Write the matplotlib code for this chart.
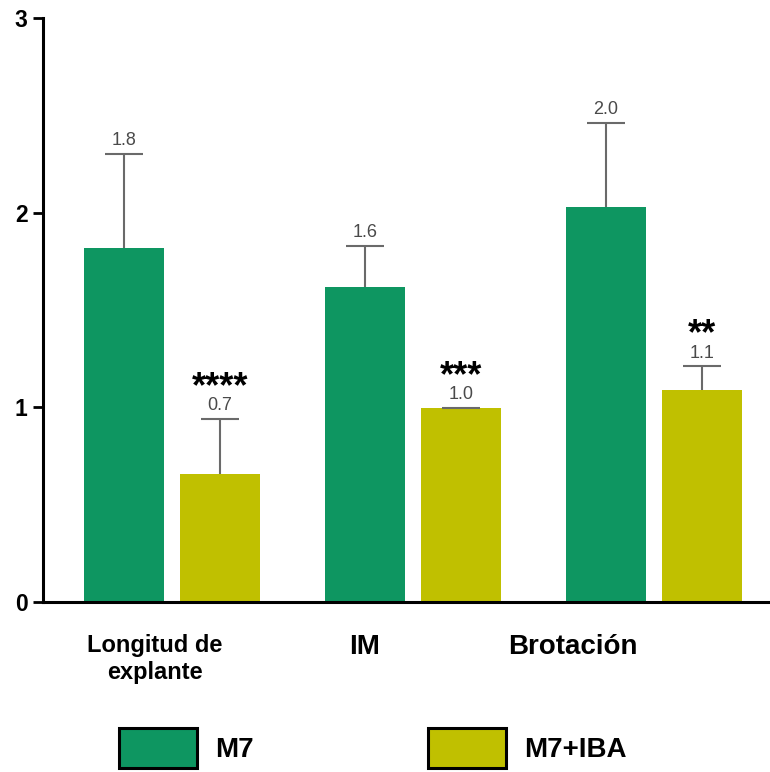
import matplotlib
matplotlib.use("Agg")
import matplotlib.pyplot as plt
from matplotlib.patches import Patch
import numpy as np

# Data
categories = ["Longitud de\nexplante", "IM", "Brotación"]
series_names = ["M7", "M7+IBA"]
m7_means = [1.82, 1.62, 2.03]
m7_err = [0.48, 0.21, 0.43]
iba_means = [0.66, 0.995, 1.09]
iba_err = [0.28, 0.0, 0.12]
significance = ["****", "***", "**"]
y_ticks = [0, 1, 2, 3]

GREEN = "#0E9661"
YELLOW = "#C0C000"
ERR_GRAY = "#6A6A6A"
LABEL_GRAY = "#4A4A4A"

plt.rcParams["font.family"] = ["Liberation Sans", "DejaVu Sans"]

fig = plt.figure(figsize=(7.70, 7.72), dpi=100)
ax = fig.add_axes([43 / 770, 170 / 772, 727 / 770, 584 / 772])

x = np.arange(len(categories))
offset = 0.2
width = 0.332

err_kw = dict(ecolor=ERR_GRAY, elinewidth=1.5, capsize=14, capthick=1.5)
bars_m7 = ax.bar(x - offset, m7_means, width, color=GREEN,
                 yerr=[np.zeros(len(m7_err)), m7_err], error_kw=err_kw, zorder=2)
bars_iba = ax.bar(x + offset, iba_means, width, color=YELLOW,
                  yerr=[np.zeros(len(iba_err)), iba_err], error_kw=err_kw, zorder=2)

# Only the upper half of each error bar is shown: hide the lower caps
for bc in (bars_m7, bars_iba):
    caplines = bc.errorbar.lines[1]
    caplines[0].set_visible(False)

# Value labels above error bars, significance stars above the M7+IBA labels
for xi, m, e in zip(x - offset, m7_means, m7_err):
    ax.annotate(f"{m:.1f}", (xi, m + e), xytext=(0, 3.5), textcoords="offset points",
                ha="center", va="bottom", fontsize=13, color=LABEL_GRAY)
for xi, m, e, s in zip(x + offset, iba_means, iba_err, significance):
    ax.annotate(f"{m:.1f}", (xi, m + e), xytext=(0, 3.5), textcoords="offset points",
                ha="center", va="bottom", fontsize=13, color=LABEL_GRAY)
    ax.annotate(s, (xi, m + e), xytext=(0, 10), textcoords="offset points",
                ha="center", va="bottom", fontsize=26, fontweight="bold",
                color="black")

ax.set_ylim(0, 3)
ax.set_xlim(-0.535, 2.481)
ax.set_yticks(y_ticks)
ax.set_yticklabels([str(t) for t in y_ticks], fontsize=16.5, fontweight="bold")

label_shift = [-0.07, -0.2, -0.336]
ax.set_xticks(x + np.array(label_shift))
ax.set_xticklabels(categories, fontweight="bold", linespacing=1.25)
for lbl, fs in zip(ax.get_xticklabels(), [17, 20, 20]):
    lbl.set_fontsize(fs)
ax.tick_params(axis="x", length=0, pad=23)
ax.tick_params(axis="y", length=7, width=2, pad=4)

for side in ["top", "right"]:
    ax.spines[side].set_visible(False)
ax.spines["left"].set_linewidth(2.2)
ax.spines["bottom"].set_linewidth(2.2)

handles = [Patch(facecolor=GREEN, edgecolor="black", linewidth=2.2),
           Patch(facecolor=YELLOW, edgecolor="black", linewidth=2.2)]
fig.legend(handles, series_names, loc="center left",
           bbox_to_anchor=(119 / 770, 24 / 772), ncol=2, frameon=False,
           prop=dict(weight="bold", size=20), handlelength=2.8,
           handleheight=1.8, handletextpad=0.65, columnspacing=6.3,
           borderpad=0, borderaxespad=0)

fig.savefig("out.png", dpi=100)
